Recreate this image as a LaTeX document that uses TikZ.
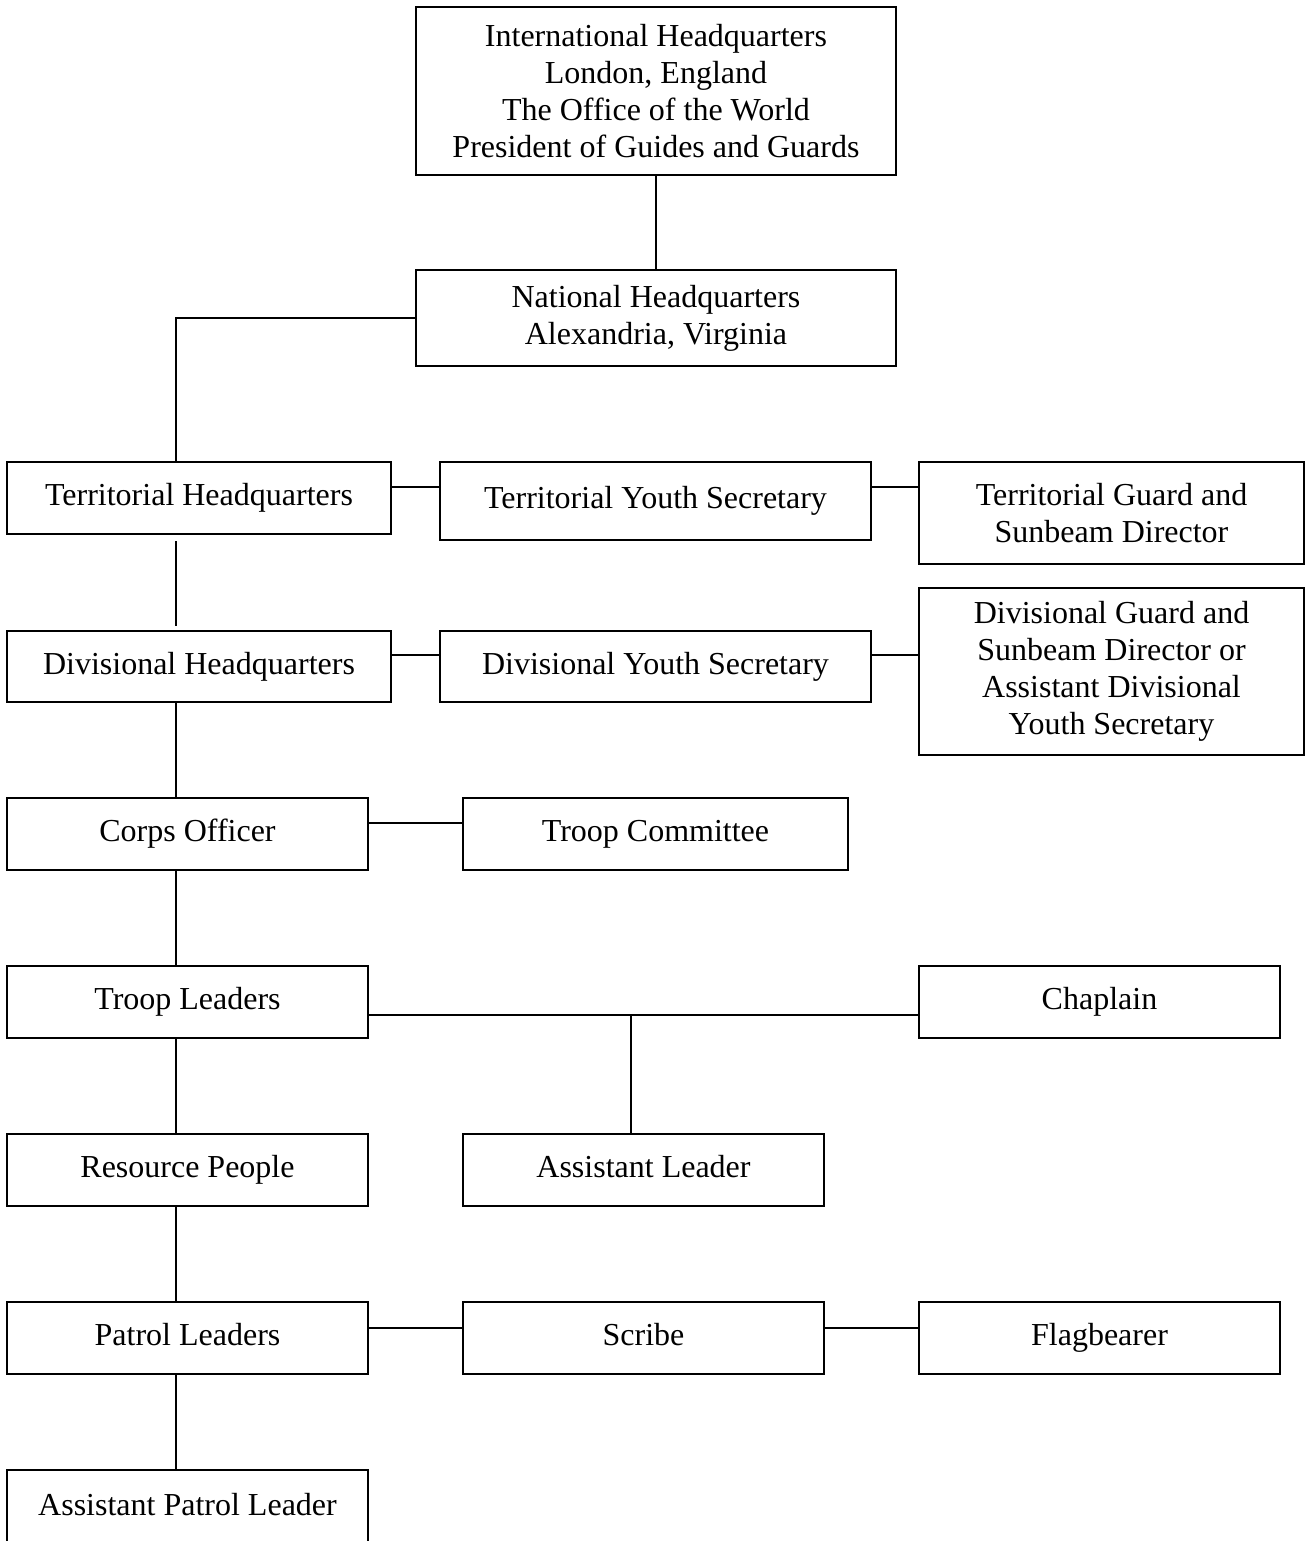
\documentclass[tikz,border=0pt]{standalone}
\usepackage{fontspec}
\setmainfont{Liberation Serif}
\usepackage{tikz}

\begin{document}
\begin{tikzpicture}[x=0.5pt, y=-0.5pt, line width=1pt,
    post/.style={draw, align=center, inner sep=0pt, font=\fontsize{16}{18.5}\selectfont},
    single/.style={post, text height=11pt, text depth=3.5pt},
    wide/.style={single, minimum width=180.5pt, minimum height=36pt}]
      \useasboundingbox (0, 0) rectangle (1306, 1541);
      \node[post, minimum width=240pt, minimum height=84pt] (intl) at (656, 91)
        {International Headquarters\\London, England\\The Office of the World\\President of Guides and Guards};
      \node[post, minimum width=240pt, minimum height=48pt] (natl) at (656, 318)
        {National Headquarters\\Alexandria, Virginia};
      \node[single, minimum width=192pt, minimum height=36pt] (terrhq) at (199, 498) {Territorial Headquarters};
      \node[single, minimum width=215.5pt, minimum height=39pt] (terrys) at (655.5, 501) {Territorial Youth Secretary};
      \node[post, minimum width=192.5pt, minimum height=51pt] (terrgs) at (1111.5, 513)
        {Territorial Guard and\\Sunbeam Director};
      \node[single, minimum width=192pt, minimum height=35.5pt] (divhq) at (199, 666.5) {Divisional Headquarters};
      \node[single, minimum width=215.5pt, minimum height=35.5pt] (divys) at (655.5, 666.5) {Divisional Youth Secretary};
      \node[post, minimum width=192.5pt, minimum height=83.5pt] (divgs) at (1111.5, 671.5)
        {Divisional Guard and\\Sunbeam Director or\\Assistant Divisional\\Youth Secretary};
      \node[wide] (corps) at (187.5, 834) {Corps Officer};
      \node[single, minimum width=192.5pt, minimum height=36pt] (committee) at (655.5, 834) {Troop Committee};
      \node[wide] (troop) at (187.5, 1002) {Troop Leaders};
      \node[wide] (chaplain) at (1099.5, 1002) {Chaplain};
      \node[wide] (resource) at (187.5, 1170) {Resource People};
      \node[wide] (assist) at (643.5, 1170) {Assistant Leader};
      \node[wide] (patrol) at (187.5, 1338) {Patrol Leaders};
      \node[wide] (scribe) at (643.5, 1338) {Scribe};
      \node[wide] (flag) at (1099.5, 1338) {Flagbearer};
      \node[wide, minimum height=38pt] (apl) at (187.5, 1508) {Assistant Patrol Leader};
      \coordinate (spine) at (176, 0);
      \coordinate (tj) at (631, 1015);
      \draw (intl.south) -- (natl.north);
      \draw (natl.west) -| (spine |- terrhq.north);
      \draw (terrhq.east |- 0, 487) -- (terrys.west |- 0, 487);
      \draw (terrys.east |- 0, 487) -- (terrgs.west |- 0, 487);
      \draw[shorten <=3pt, shorten >=2pt] (spine |- terrhq.south) -- (spine |- divhq.north);
      \draw (divhq.east |- 0, 655) -- (divys.west |- 0, 655);
      \draw (divys.east |- 0, 655) -- (divgs.west |- 0, 655);
      \draw (spine |- divhq.south) -- (spine |- corps.north);
      \draw (corps.east |- 0, 823) -- (committee.west |- 0, 823);
      \draw (spine |- corps.south) -- (spine |- troop.north);
      \draw (troop.east |- tj) -- (chaplain.west |- tj);
      \draw (tj) -- (tj |- assist.north);
      \draw (spine |- troop.south) -- (spine |- resource.north);
      \draw (spine |- resource.south) -- (spine |- patrol.north);
      \draw (patrol.east |- 0, 1328) -- (scribe.west |- 0, 1328);
      \draw (scribe.east |- 0, 1328) -- (flag.west |- 0, 1328);
      \draw (spine |- patrol.south) -- (spine |- apl.north);
    \end{tikzpicture}
\end{document}
